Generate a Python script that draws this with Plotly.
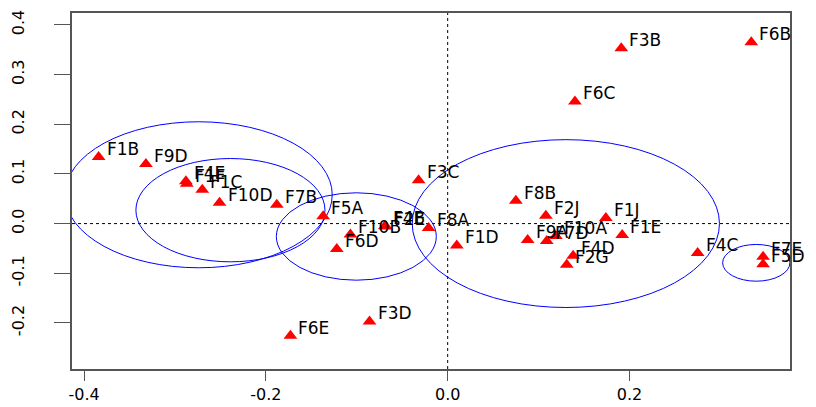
import plotly.graph_objects as go

labels = ["F1B", "F9D", "F4E", "F1F", "F1C", "F10D", "F7B", "F5A", "F10B", "F6D",
          "F4B", "F2E", "F8A", "F3C", "F1D", "F8B", "F2J", "F1J", "F1E", "F9A",
          "F7D", "F10A", "F4D", "F2G", "F4C", "F7E", "F5D", "F6C", "F3B", "F6B",
          "F6E", "F3D"]
dim1 = [-0.384, -0.332, -0.288, -0.287, -0.270, -0.251, -0.188, -0.137, -0.107, -0.122,
        -0.069, -0.068, -0.021, -0.032, 0.010, 0.075, 0.108, 0.174, 0.192, 0.088,
        0.109, 0.119, 0.138, 0.131, 0.275, 0.347, 0.347, 0.140, 0.191, 0.334,
        -0.173, -0.086]
dim2 = [0.134, 0.120, 0.085, 0.080, 0.068, 0.042, 0.038, 0.015, -0.022, -0.051,
        -0.005, -0.006, -0.009, 0.087, -0.044, 0.046, 0.016, 0.011, -0.023, -0.033,
        -0.035, -0.025, -0.065, -0.083, -0.059, -0.067, -0.082, 0.246, 0.353, 0.365,
        -0.226, -0.197]

circle_x = [-0.274, -0.239, -0.1005, 0.130, 0.3395]
circle_y = [0.058, 0.027, -0.026, 0.000, -0.079]
circle_r = [0.147, 0.104, 0.088, 0.169, 0.037]

x_ticks = [-0.4, -0.2, 0.0, 0.2]
x_ticktext = ["-0.4", "-0.2", "0.0", "0.2"]
y_ticks = [-0.2, -0.1, 0.0, 0.1, 0.2, 0.3, 0.4]
y_ticktext = ["-0.2", "-0.1", "0.0", "0.1", "0.2", "0.3", "0.4"]

FONT = "DejaVu Sans"

fig = go.Figure()
fig.add_trace(go.Scatter(
    x=dim1, y=dim2, mode="markers",
    marker=dict(symbol="triangle-up", size=12, color="#ff0000", line=dict(width=0)),
    hoverinfo="skip", showlegend=False, cliponaxis=False,
))

annotations = []
for name, xv, yv in zip(labels, dim1, dim2):
    annotations.append(dict(x=xv, y=yv, xref="x", yref="y", text=name,
                            showarrow=False, xanchor="left", yanchor="bottom",
                            xshift=7, yshift=-3, borderpad=0,
                            font=dict(family=FONT, size=17, color="black")))

shapes = []
for cx, cy, r in zip(circle_x, circle_y, circle_r):
    shapes.append(dict(type="circle", xref="x", yref="y",
                       x0=cx - r, x1=cx + r, y0=cy - r, y1=cy + r,
                       line=dict(color="#0000ff", width=1), layer="below"))
shapes.append(dict(type="line", xref="x", yref="paper", x0=0, x1=0, y0=0, y1=1,
                   line=dict(color="black", width=1, dash="dot"), layer="below"))
shapes.append(dict(type="line", xref="paper", yref="y", x0=0, x1=1, y0=0, y1=0,
                   line=dict(color="black", width=1, dash="dot"), layer="below"))

fig.update_layout(
    width=816, height=407,
    margin=dict(l=72, r=26, t=13, b=38, autoexpand=False),
    paper_bgcolor="white", plot_bgcolor="white",
    shapes=shapes, annotations=annotations,
    xaxis=dict(range=[-0.4133, 0.3766], tickvals=x_ticks, ticktext=x_ticktext,
               automargin=False,
               showgrid=False, zeroline=False, showline=True, mirror=True,
               linecolor="#555555", linewidth=2, ticks="outside", ticklen=10,
               tickcolor="#555555", tickwidth=1,
               tickfont=dict(family=FONT, size=16, color="black"),
               ticklabelstandoff=0),
    yaxis=dict(range=[-0.2928, 0.424], tickvals=y_ticks, ticktext=y_ticktext,
               automargin=False,
               showgrid=False, zeroline=False, showline=True, mirror=True,
               linecolor="#555555", linewidth=2, ticks="outside", ticklen=16,
               tickcolor="#555555", tickwidth=1, tickangle=-90,
               tickfont=dict(family=FONT, size=16, color="black"),
               ticklabelstandoff=24),
)

fig.write_html("out.html")
